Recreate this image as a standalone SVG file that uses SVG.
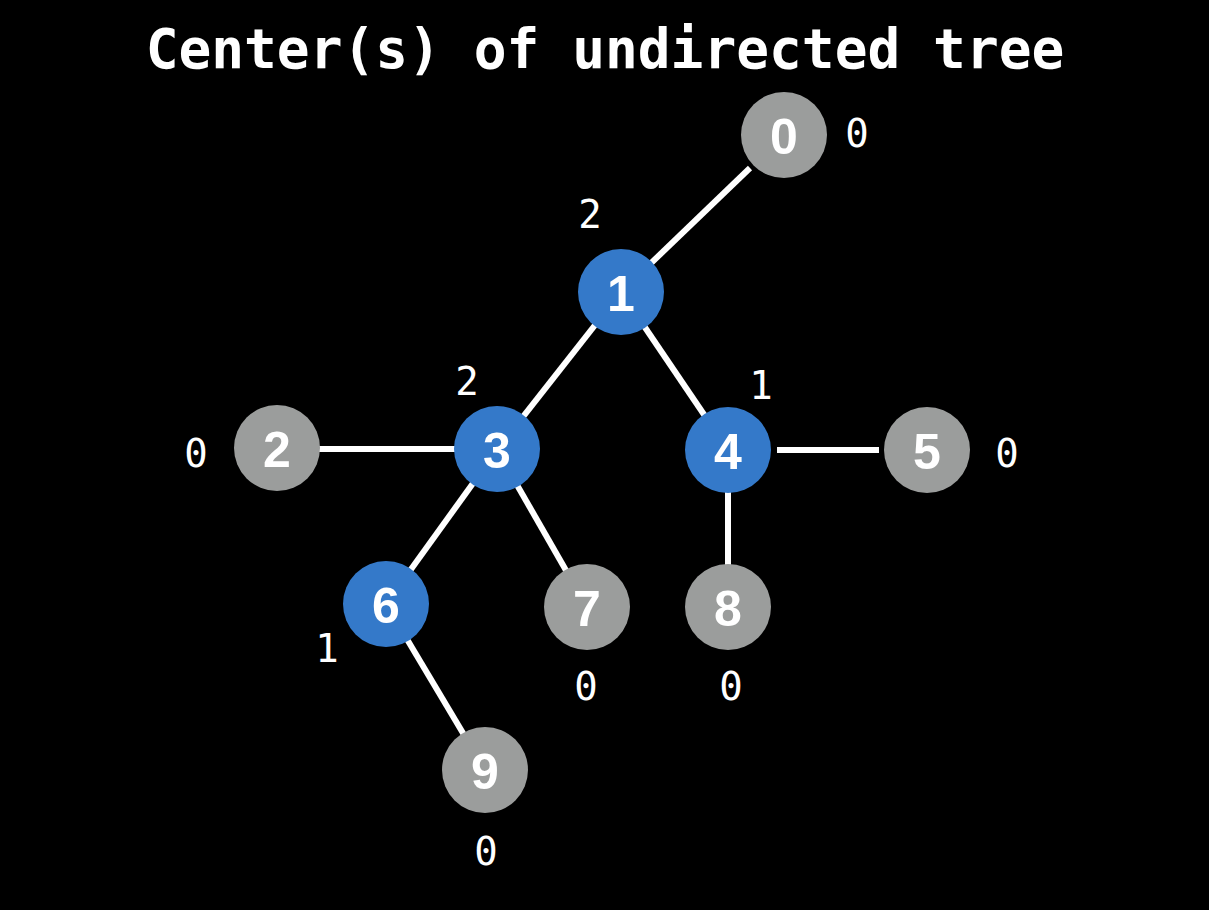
<svg xmlns="http://www.w3.org/2000/svg" width="1209" height="910" viewBox="0 0 1209 910">
  <style>
    .edge { stroke: #ffffff; stroke-width: 6; stroke-linecap: butt; }
    .blue { fill: #3479c9; }
    .gray { fill: #9b9d9c; }
    .num { font-family: "Liberation Sans", Arial, sans-serif; font-weight: bold; font-size: 50px; fill: #ffffff; text-anchor: middle; }
    .lbl { font-family: "DejaVu Sans Mono", "Liberation Mono", monospace; font-size: 39px; fill: #ffffff; text-anchor: middle; }
    .title { font-family: "DejaVu Sans Mono", "Liberation Mono", monospace; font-weight: bold; font-size: 54.5px; fill: #ffffff; text-anchor: middle; }
  </style>
  <rect x="0" y="0" width="1209" height="910" fill="#000000"/>
  <text class="title" x="605" y="68">Center(s) of undirected tree</text>
  <g id="connectors">
    <line class="edge" x1="750" y1="168" x2="621" y2="292"/>
    <line class="edge" x1="621" y1="292" x2="497" y2="450"/>
    <line class="edge" x1="621" y1="292" x2="728" y2="450"/>
    <line class="edge" x1="277" y1="449" x2="497" y2="449"/>
    <line class="edge" x1="497" y1="450" x2="386" y2="604"/>
    <line class="edge" x1="497" y1="450" x2="587" y2="607"/>
    <line class="edge" x1="777" y1="450" x2="879" y2="450"/>
    <line class="edge" x1="728" y1="450" x2="728" y2="607"/>
    <line class="edge" x1="386" y1="604" x2="485" y2="770"/>
  </g>
  <g id="node0"><circle class="gray" cx="784" cy="135" r="43"/><text class="num" x="784" y="154">0</text><text class="lbl" x="857" y="147">0</text></g>
  <g id="node1"><circle class="blue" cx="621" cy="292" r="43"/><text class="num" x="621" y="311">1</text><text class="lbl" x="590" y="228">2</text></g>
  <g id="node2"><circle class="gray" cx="277" cy="448" r="43"/><text class="num" x="277" y="467">2</text><text class="lbl" x="196" y="467">0</text></g>
  <g id="node3"><circle class="blue" cx="497" cy="449" r="43"/><text class="num" x="497" y="468">3</text><text class="lbl" x="467" y="395">2</text></g>
  <g id="node4"><circle class="blue" cx="728" cy="450" r="43"/><text class="num" x="728" y="469">4</text><text class="lbl" x="761" y="399">1</text></g>
  <g id="node5"><circle class="gray" cx="927" cy="450" r="43"/><text class="num" x="927" y="469">5</text><text class="lbl" x="1007" y="467">0</text></g>
  <g id="node6"><circle class="blue" cx="386" cy="604" r="43"/><text class="num" x="386" y="623">6</text><text class="lbl" x="327" y="662">1</text></g>
  <g id="node7"><circle class="gray" cx="587" cy="607" r="43"/><text class="num" x="587" y="626">7</text><text class="lbl" x="586" y="700">0</text></g>
  <g id="node8"><circle class="gray" cx="728" cy="607" r="43"/><text class="num" x="728" y="626">8</text><text class="lbl" x="731" y="700">0</text></g>
  <g id="node9"><circle class="gray" cx="485" cy="770" r="43"/><text class="num" x="485" y="789">9</text><text class="lbl" x="486" y="865">0</text></g>
</svg>
